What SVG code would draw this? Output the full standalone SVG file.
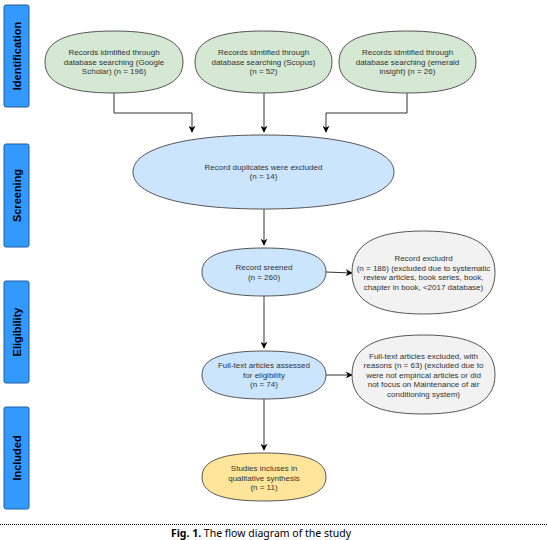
<svg xmlns="http://www.w3.org/2000/svg" width="547" height="540" viewBox="0 0 547 540">
<defs>
<style>
.stage{fill:#3399ff;stroke:#1f5f9e;stroke-width:1}
.stext{font-family:"Liberation Sans",Arial,sans-serif;font-weight:bold;font-size:11px;fill:#000;text-anchor:middle}
.t{font-family:"Liberation Sans",Arial,sans-serif;font-size:8px;fill:#333;text-anchor:middle}
.node{stroke:#555;stroke-width:1}
.green{fill:#d5e8d4}
.blue{fill:#cce5ff}
.grey{fill:#f2f2f2}
.yellow{fill:#ffe599}
.conn{fill:none;stroke:#333;stroke-width:1}
.cap{font-family:"Noto Sans","Open Sans",sans-serif;font-size:10.5px;fill:#000;text-anchor:middle}
</style>
<marker id="arr" viewBox="0 0 10 10" refX="9" refY="5" markerWidth="7" markerHeight="7" orient="auto" markerUnits="userSpaceOnUse">
<path d="M0,0 L10,5 L0,10 L3,5 z" fill="#000"/>
</marker>
</defs>
<rect width="547" height="540" fill="#fff"/>

<g id="stage-identification"><rect class="stage" x="4" y="5" width="25" height="102" rx="2"/><text class="stext" transform="translate(20.5,56) rotate(-90)">Identification</text></g>
<g id="stage-screening"><rect class="stage" x="4" y="144" width="25" height="103" rx="2"/><text class="stext" transform="translate(20.5,195.5) rotate(-90)">Screening</text></g>
<g id="stage-eligibility"><rect class="stage" x="4" y="281" width="25" height="102" rx="2"/><text class="stext" transform="translate(20.5,332) rotate(-90)">Eligibility</text></g>
<g id="stage-included"><rect class="stage" x="4" y="407" width="25" height="102" rx="2"/><text class="stext" transform="translate(20.5,458) rotate(-90)">Included</text></g>

<g id="connectors">
<path class="conn" d="M114,93 V113 H192 V132" marker-end="url(#arr)"/>
<path class="conn" d="M264,93 V132" marker-end="url(#arr)"/>
<path class="conn" d="M407,93 V113 H326 V132" marker-end="url(#arr)"/>
<path class="conn" d="M264,209 V245" marker-end="url(#arr)"/>
<path class="conn" d="M326,272 L352,273" marker-end="url(#arr)"/>
<path class="conn" d="M264,296 V348" marker-end="url(#arr)"/>
<path class="conn" d="M326,375 H352" marker-end="url(#arr)"/>
<path class="conn" d="M264,399 V450" marker-end="url(#arr)"/>
</g>

<g id="n-google"><path class="node green" d="M45,62 C45,40.9 67.1,31 114,31 C160.9,31 183,40.9 183,62 C183,83.1 160.9,93 114,93 C67.1,93 45,83.1 45,62 Z"/>
<text class="t" x="114" y="55">Records idmtified through</text><text class="t" x="114" y="64.5">database searching (Google</text><text class="t" x="114" y="74">Scholar) (n = 196)</text></g>
<g id="n-scopus"><path class="node green" d="M195,62 C195,40.9 216.9,31 263.5,31 C310.1,31 332,40.9 332,62 C332,83.1 310.1,93 263.5,93 C216.9,93 195,83.1 195,62 Z"/>
<text class="t" x="263.5" y="55">Records idmtified through</text><text class="t" x="263.5" y="64.5">database searching (Scopus)</text><text class="t" x="263.5" y="74">(n = 52)</text></g>
<g id="n-emerald"><path class="node green" d="M339,62 C339,40.9 360.9,31 407.5,31 C454.1,31 476,40.9 476,62 C476,83.1 454.1,93 407.5,93 C360.9,93 339,83.1 339,62 Z"/>
<text class="t" x="407.5" y="55">Records idmtified through</text><text class="t" x="407.5" y="64.5">database searching (emerald</text><text class="t" x="407.5" y="74">insight) (n = 26)</text></g>

<g id="n-duplicates"><path class="node blue" d="M133,172 C133,149.1 182.6,135 263.5,135 C344.4,135 394,149.1 394,172 C394,194.9 344.4,209 263.5,209 C182.6,209 133,194.9 133,172 Z"/>
<text class="t" x="263.5" y="169.5">Record duplicates were excluded</text><text class="t" x="263.5" y="179">(n = 14)</text></g>

<g id="n-screened"><path class="node blue" d="M202,272 C202,255.7 221.8,248 264,248 C306.2,248 326,255.7 326,272 C326,288.3 306.2,296 264,296 C221.8,296 202,288.3 202,272 Z"/>
<text class="t" x="264" y="270">Record sreened</text><text class="t" x="264" y="280">(n = 260)</text></g>

<g id="n-excluded"><path class="node grey" d="M352,272.5 C352,244.3 374.9,231 423.5,231 C472.1,231 495,244.3 495,272.5 C495,300.7 472.1,314 423.5,314 C374.9,314 352,300.7 352,272.5 Z"/>
<text class="t" x="423.5" y="261">Record excludrd</text><text class="t" x="423.5" y="270.5">(n = 186) (excluded due to systematic</text><text class="t" x="423.5" y="280">review articles, book series, book,</text><text class="t" x="423.5" y="289.5">chapter in book, &lt;2017 database)</text></g>

<g id="n-fulltext"><path class="node blue" d="M202,375 C202,358.7 221.8,351 264,351 C306.2,351 326,358.7 326,375 C326,391.3 306.2,399 264,399 C221.8,399 202,391.3 202,375 Z"/>
<text class="t" x="264" y="368">Full-text articles assessed</text><text class="t" x="264" y="377.5">for eligibility</text><text class="t" x="264" y="387">(n = 74)</text></g>

<g id="n-fulltext-excluded"><path class="node grey" d="M352,374.5 C352,347.6 374.9,335 423.5,335 C472.1,335 495,347.6 495,374.5 C495,401.4 472.1,414 423.5,414 C374.9,414 352,401.4 352,374.5 Z"/>
<text class="t" x="423.5" y="358.5">Full-text articles excluded, with</text><text class="t" x="423.5" y="368">reasons (n = 63) (excluded due to</text><text class="t" x="423.5" y="377.5">were not empirical articles or did</text><text class="t" x="423.5" y="387">not focus on Maintenance of air</text><text class="t" x="423.5" y="396.5">conditioning system)</text></g>

<g id="n-included"><path class="node yellow" d="M202,477 C202,460.7 221.8,453 264,453 C306.2,453 326,460.7 326,477 C326,493.3 306.2,501 264,501 C221.8,501 202,493.3 202,477 Z"/>
<text class="t" x="264" y="471">Studies incluses in</text><text class="t" x="264" y="480.5">qualitative synthesis</text><text class="t" x="264" y="490">(n = 11)</text></g>

<line x1="0" y1="524.5" x2="547" y2="524.5" stroke="#000" stroke-width="1" stroke-dasharray="1,1"/>
<text class="cap" x="261" y="537"><tspan font-weight="bold">Fig. 1.</tspan> The flow diagram of the study</text>
</svg>
